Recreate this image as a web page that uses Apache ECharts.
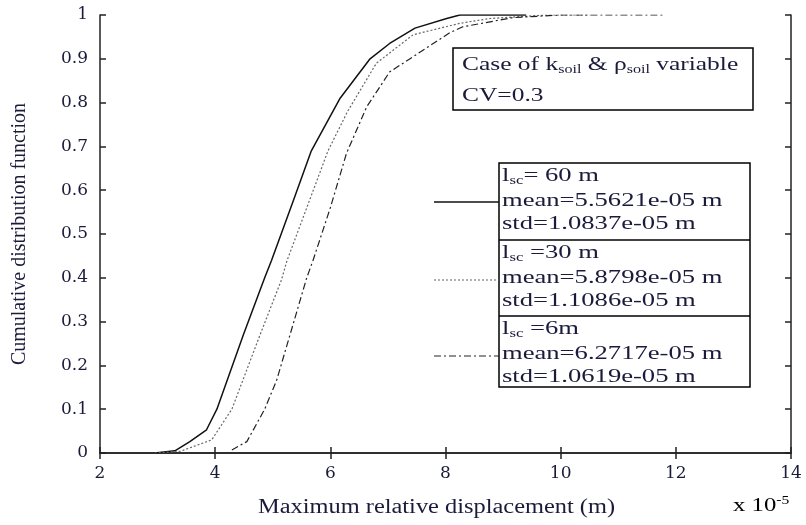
<!DOCTYPE html>
<html>
<head>
<meta charset="utf-8">
<script src="https://cdn.jsdelivr.net/npm/echarts@6.0.0/dist/echarts.min.js"></script>
<style>
  html, body { margin: 0; padding: 0; background: #fff; }
  #chart { width: 806px; height: 525px; }
</style>
</head>
<body>
<div id="chart"></div>
<script>
// x values in units of 1e-5 m
var lsc60X = [2.95, 3.3, 3.56, 3.85, 4.03, 4.49, 4.86, 4.98, 5.36, 5.67, 6.17, 6.69, 7.03, 7.47, 8.02, 8.25, 9.4];
var lsc60Y = [0, 0.005, 0.026, 0.053, 0.10, 0.27, 0.40, 0.44, 0.577, 0.69, 0.81, 0.90, 0.935, 0.97, 0.992, 1, 1];

var lsc30X = [2.95, 3.4, 3.94, 4.29, 4.78, 5.15, 5.25, 5.96, 6.3, 6.8, 7.44, 8.25, 8.77, 9.75, 10.5];
var lsc30Y = [0, 0.004, 0.03, 0.10, 0.27, 0.395, 0.44, 0.69, 0.78, 0.89, 0.955, 0.981, 0.992, 1, 1];

var lsc6X = [4.29, 4.55, 4.86, 5.07, 5.30, 5.59, 5.70, 6.0, 6.28, 6.63, 7.03, 7.44, 8.08, 8.3, 9.17, 10, 11.8];
var lsc6Y = [0.007, 0.026, 0.10, 0.167, 0.27, 0.40, 0.44, 0.56, 0.684, 0.79, 0.87, 0.905, 0.96, 0.973, 0.994, 1, 1];

var xTicks = [2, 4, 6, 8, 10, 12, 14];
var yTicks = [0, 0.1, 0.2, 0.3, 0.4, 0.5, 0.6, 0.7, 0.8, 0.9, 1];

var legendRows = [
  ['{n|l}{s|sc}{n|= 60 m}', 'mean=5.5621e-05 m', 'std=1.0837e-05 m'],
  ['{n|l}{s|sc}{n| =30 m}', 'mean=5.8798e-05 m', 'std=1.1086e-05 m'],
  ['{n|l}{s|sc}{n| =6m}', 'mean=6.2717e-05 m', 'std=1.0619e-05 m']
];

function pairs(xs, ys) {
  return xs.map(function (x, i) { return [x, ys[i]]; });
}

var txtColor = '#1a1a3a';
var serif = '"Liberation Serif", "DejaVu Serif", serif';
var richStyle = {
  n: { fontSize: 19, fontFamily: serif, color: txtColor, lineHeight: 22, verticalAlign: 'middle' },
  s: { fontSize: 12, fontFamily: serif, color: txtColor, lineHeight: 12, verticalAlign: 'bottom' },
  p: { fontSize: 12, fontFamily: serif, color: txtColor, lineHeight: 12, verticalAlign: 'top' }
};

var styles = [
  { color: '#111', width: 1.5, type: 'solid' },
  { color: '#666', width: 1.2, type: [2, 2] },
  { color: '#222', width: 1.2, type: [7, 3, 2, 3] }
];

var graphics = [];
function label(x, y, text, sx) {
  graphics.push({
    type: 'text', x: x, y: y, scaleX: sx || 1.4, z: 20,
    style: { text: text, rich: richStyle, fontSize: 19, fontFamily: serif, fill: txtColor, verticalAlign: 'middle', align: 'left' }
  });
}

// case box
graphics.push({ type: 'rect', z: 10, shape: { x: 453, y: 48, width: 300, height: 62 }, style: { fill: '#fff', stroke: '#000', lineWidth: 1.5 } });
label(462, 65, '{n|Case of k}{s|soil}{n| & ρ}{s|soil}{n| variable}', 1.34);
label(462, 96, '{n|CV=0.3}', 1.34);

// legend boxes
var boxTop = [163, 240, 316];
var boxBottom = 387;
graphics.push({ type: 'rect', z: 10, shape: { x: 499, y: 163, width: 251, height: boxBottom - 163 }, style: { fill: '#fff', stroke: '#000', lineWidth: 1.5 } });
[240, 316].forEach(function (y) {
  graphics.push({ type: 'line', z: 11, shape: { x1: 499, y1: y, x2: 750, y2: y }, style: { stroke: '#000', lineWidth: 1.5 } });
});
var sampleY = [202, 280, 356];
legendRows.forEach(function (rows, i) {
  graphics.push({ type: 'line', z: 11, shape: { x1: 434, y1: sampleY[i], x2: 499, y2: sampleY[i] },
    style: { stroke: styles[i].color, lineWidth: styles[i].width, lineDash: styles[i].type === 'solid' ? null : styles[i].type } });
  label(502, boxTop[i] + 13, rows[0]);
  label(502, boxTop[i] + 38, '{n|' + rows[1] + '}');
  label(502, boxTop[i] + 61, '{n|' + rows[2] + '}');
});

// axis titles
graphics.push({
  type: 'text', x: 258, y: 508, scaleX: 1.22,
  style: { text: 'Maximum relative displacement (m)', fontSize: 20, fontFamily: serif, fill: txtColor, verticalAlign: 'middle', align: 'left' }
});
graphics.push({
  type: 'text', x: 733, y: 506, scaleX: 1.3,
  style: { text: '{n|x 10}{p|-5}', rich: richStyle, verticalAlign: 'middle', align: 'left' }
});

var axisLbl = { fontSize: 17, fontFamily: '"DejaVu Serif", serif', color: txtColor };

var chart = echarts.init(document.getElementById('chart'));
chart.setOption({
  animation: false,
  backgroundColor: '#fff',
  grid: { left: 100, right: 15, top: 15, bottom: 72 },
  xAxis: [
    {
      type: 'value', min: xTicks[0], max: xTicks[xTicks.length - 1], interval: 2, position: 'bottom',
      axisLine: { lineStyle: { color: '#222', width: 1.5 } },
      axisTick: { inside: true, length: 6, lineStyle: { color: '#222', width: 1.5 } },
      splitLine: { show: false },
      axisLabel: Object.assign({ margin: 12 }, axisLbl)
    },
    {
      type: 'value', min: xTicks[0], max: xTicks[xTicks.length - 1], interval: 2, position: 'top',
      axisLine: { lineStyle: { color: '#222', width: 1.5 } },
      axisTick: { inside: true, length: 6, lineStyle: { color: '#222', width: 1.5 } },
      splitLine: { show: false }, axisLabel: { show: false }
    }
  ],
  yAxis: [
    {
      type: 'value', min: yTicks[0], max: yTicks[yTicks.length - 1], interval: 0.1, position: 'left',
      name: 'Cumulative distribution function', nameLocation: 'middle', nameGap: 70,
      nameTextStyle: { fontSize: 20, fontFamily: serif, color: txtColor },
      axisLine: { show: true, lineStyle: { color: '#222', width: 1.5 } },
      axisTick: { show: true, inside: true, length: 6, lineStyle: { color: '#222', width: 1.5 } },
      splitLine: { show: false },
      axisLabel: Object.assign({ margin: 12, formatter: function (v) { return String(+v.toFixed(1)); } }, axisLbl)
    },
    {
      type: 'value', min: yTicks[0], max: yTicks[yTicks.length - 1], interval: 0.1, position: 'right',
      axisLine: { show: true, lineStyle: { color: '#222', width: 1.5 } },
      axisTick: { show: true, inside: true, length: 6, lineStyle: { color: '#222', width: 1.5 } },
      splitLine: { show: false }, axisLabel: { show: false }
    }
  ],
  series: [
    { name: 'lsc=60 m', type: 'line', data: pairs(lsc60X, lsc60Y), symbol: 'none', lineStyle: styles[0], z: 3 },
    { name: 'lsc=30 m', type: 'line', data: pairs(lsc30X, lsc30Y), symbol: 'none', lineStyle: styles[1], z: 3 },
    { name: 'lsc=6 m', type: 'line', data: pairs(lsc6X, lsc6Y), symbol: 'none', lineStyle: styles[2], z: 3 }
  ],
  graphic: graphics
});
</script>
</body>
</html>
